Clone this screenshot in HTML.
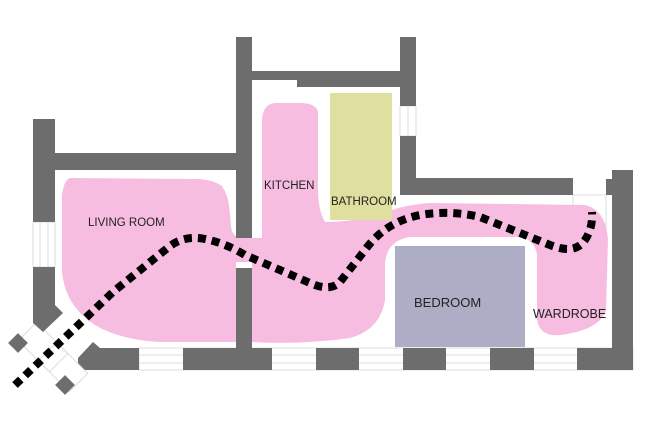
<!DOCTYPE html>
<html><head><meta charset="utf-8"><style>
html,body{margin:0;padding:0;background:#fff;width:652px;height:435px;overflow:hidden}
text{font-family:"Liberation Sans",sans-serif;fill:#222}
</style></head><body>
<svg width="652" height="435" viewBox="0 0 652 435" xmlns="http://www.w3.org/2000/svg">
<!-- windows -->
<g fill="none" stroke="#ddd" stroke-width="1">
<rect x="33" y="222" width="22" height="45"/>
<line x1="40" y1="222" x2="40" y2="267"/><line x1="48" y1="222" x2="48" y2="267"/>
<rect x="400" y="106" width="16" height="30"/>
<line x1="408" y1="106" x2="408" y2="136"/>
<rect x="139" y="348" width="494" height="22"/>
<line x1="139" y1="355" x2="633" y2="355"/><line x1="139" y1="363" x2="633" y2="363"/>
<rect x="573" y="195" width="33" height="35"/>
<rect x="30" y="325" width="26" height="44" transform="rotate(-45 43 347)"/>
<rect x="50" y="345" width="26" height="44" transform="rotate(-45 63 367)"/>
</g>
<!-- pink blobs -->
<g fill="#f6bde0">
<path d="M70 178 Q64 180 62 195 L62 270 Q64 305 95 325 Q120 340 160 342 L236 342 L236 262 L252 262 L252 342 Q300 345 350 338 Q380 330 385 300 L385 262 Q388 240 410 237 L520 237 Q535 240 537 255 L537 320 Q540 337 560 335 Q600 330 606 310 L608 240 Q606 210 585 205 L430 203 Q400 205 380 215 Q350 222 325 222 Q318 210 318 190 L318 112 Q316 103 300 103 L275 103 Q263 104 262 120 L262 238 L252 238 L240 238 Q232 236 231 226 Q230 214 229 206 Q228 195 222 186 Q213 180 200 179 Z"/>
</g>
<rect x="330" y="93" width="62" height="127" fill="#dfdfa0"/>
<rect x="395" y="246" width="130" height="101" fill="#adadc6"/>
<!-- walls -->
<g fill="#6d6d6d">
<rect x="33" y="119" width="22" height="103"/>
<polygon points="33,267 55,267 55,305 63,313 43,332 33,323"/>
<rect x="55" y="153" width="181" height="17"/>
<rect x="236" y="37" width="16" height="201"/>
<rect x="236" y="268" width="16" height="80"/>
<rect x="252" y="71" width="148" height="9"/>
<rect x="297" y="71" width="103" height="16"/>
<rect x="400" y="37" width="16" height="69"/>
<rect x="400" y="136" width="16" height="59"/>
<rect x="400" y="178" width="173" height="17"/>
<rect x="612" y="170" width="21" height="200"/>
<rect x="606" y="179" width="8" height="16"/>
<polygon points="78,358 93,342 100,348 139,348 139,370 85,370 78,363"/>
<rect x="183" y="348" width="89" height="22"/>
<rect x="316" y="348" width="43" height="22"/>
<rect x="403" y="348" width="43" height="22"/>
<rect x="490" y="348" width="44" height="22"/>
<rect x="577" y="348" width="56" height="22"/>
<rect x="11" y="336" width="14" height="14" transform="rotate(45 18 343)"/>
<rect x="58" y="378" width="14" height="14" transform="rotate(45 65 385)"/>
</g>
<!-- path -->
<path d="M15 385 L113 292 L170 246 Q185 235 205 239 Q225 243 245 255 L310 283 Q330 292 340 282 L365 250 Q385 222 420 215 Q450 210 480 217 L550 245 Q575 255 585 240 Q593 228 592 212" fill="none" stroke="#000" stroke-width="8" stroke-dasharray="8 6"/>
<text x="88" y="226" font-size="11.5">LIVING ROOM</text>
<text x="264" y="189" font-size="11.5">KITCHEN</text>
<text x="331" y="205" font-size="11.5">BATHROOM</text>
<text x="414" y="307" font-size="13">BEDROOM</text>
<text x="533" y="318" font-size="12.5">WARDROBE</text>
</svg>
</body></html>
